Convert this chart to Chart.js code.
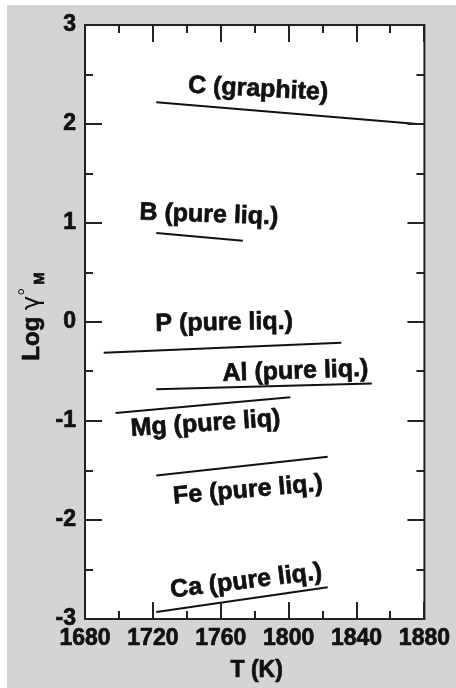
<!DOCTYPE html>
<html>
<head>
<meta charset="utf-8">
<title>Log activity coefficient vs temperature</title>
<script src="https://cdn.jsdelivr.net/npm/chart.js@4.4.1/dist/chart.umd.min.js"></script>
<style>
  html, body { margin: 0; padding: 0; background: #fff; }
  #wrap { width: 456px; height: 688px; position: relative; }
</style>
</head>
<body>
<div id="wrap"><canvas id="chart"></canvas></div>
<script>
// one straight segment per solute: endpoints in T (K) and log gamma
const solutes = ["C (graphite)", "B (pure liq.)", "P (pure liq.)", "Al (pure liq.)", "Mg (pure liq)", "Fe (pure liq.)", "Ca (pure liq.)"];
const tStart = [1722, 1722, 1691, 1722, 1698, 1722, 1722];
const tEnd = [1876, 1773, 1831, 1849, 1801, 1823, 1823];
const logStart = [2.22, 0.90, -0.31, -0.68, -0.92, -1.55, -2.93];
const logEnd = [2.00, 0.82, -0.21, -0.62, -0.76, -1.36, -2.68];

const xTicks = [1680, 1720, 1760, 1800, 1840, 1880];
const yTicks = [-3, -2, -1, 0, 1, 2, 3];

// where each name sits, in axis units, and its tilt in degrees
const labelT = [1782, 1753, 1762, 1804, 1751, 1776, 1775];
const labelLog = [2.35, 1.08, -0.01, -0.5, -1.03, -1.70, -2.62];
const labelTilt = [3, 2, -1, -2, -4, -5, -7];

const FONT = '"Liberation Sans", Arial, Helvetica, sans-serif';
const GREY = "#d3d4d6";
const INK = "#111";

const datasets = solutes.map((name, i) => ({
  label: name,
  data: [{ x: tStart[i], y: logStart[i] }, { x: tEnd[i], y: logEnd[i] }],
  showLine: true,
  borderColor: INK,
  borderWidth: 2,
  pointRadius: 0,
  fill: false,
}));

// filled and lightly stroked so the bold face reads a bit heavier
function heavyText(ctx, text, x, y) {
  ctx.fillText(text, x, y);
  ctx.strokeText(text, x, y);
}

const framePlugin = {
  id: "frame",
  beforeDraw(chart) {
    const { ctx, chartArea: a } = chart;
    ctx.save();
    ctx.fillStyle = "#fff";
    ctx.fillRect(0, 0, chart.width, chart.height);
    ctx.fillStyle = GREY;
    ctx.fillRect(7, 5, chart.width - 7, chart.height - 5);
    ctx.fillStyle = "#fff";
    ctx.fillRect(a.left, a.top, a.right - a.left, a.bottom - a.top);
    ctx.restore();
  },
  afterDatasetsDraw(chart) {
    const { ctx, chartArea: a, scales } = chart;
    const x = scales.x, y = scales.y;
    ctx.save();
    ctx.strokeStyle = "#222";
    ctx.lineWidth = 2;
    ctx.strokeRect(a.left, a.top, a.right - a.left, a.bottom - a.top);

    // inward ticks on all four sides, long at labels, short between
    ctx.beginPath();
    for (let v = 1680; v <= 1880; v += 20) {
      const px = Math.round(x.getPixelForValue(v));
      const len = v % 40 === 0 ? 17 : 8;
      ctx.moveTo(px, a.bottom); ctx.lineTo(px, a.bottom - len);
      ctx.moveTo(px, a.top); ctx.lineTo(px, a.top + len);
    }
    for (let v = -3; v <= 3; v += 0.5) {
      const py = Math.round(y.getPixelForValue(v));
      const len = Number.isInteger(v) ? 17 : 8;
      ctx.moveTo(a.left, py); ctx.lineTo(a.left + len, py);
      ctx.moveTo(a.right, py); ctx.lineTo(a.right - len, py);
    }
    ctx.stroke();

    // series names
    ctx.fillStyle = INK;
    ctx.strokeStyle = INK;
    ctx.lineWidth = 0.7;
    ctx.font = "bold 25px " + FONT;
    ctx.textAlign = "center";
    ctx.textBaseline = "middle";
    solutes.forEach((name, i) => {
      ctx.save();
      ctx.translate(x.getPixelForValue(labelT[i]), y.getPixelForValue(labelLog[i]));
      ctx.rotate(labelTilt[i] * Math.PI / 180);
      heavyText(ctx, name, 0, 0);
      ctx.restore();
    });

    // axis titles
    ctx.font = "bold 23px " + FONT;
    heavyText(ctx, "T (K)", (a.left + a.right) / 2 + 2, 671);

    ctx.save();
    ctx.translate(30, 318);
    ctx.rotate(-Math.PI / 2);
    ctx.textAlign = "left";
    ctx.textBaseline = "alphabetic";
    const parts = [
      { t: "Log ", f: "bold 24px " + FONT, dy: 0 },
      { t: "\u03b3", f: "24px \"DejaVu Sans\", sans-serif", dy: 0 },
      { t: "\u00b0", f: "20px " + FONT, dy: -6 },
      { t: "M", f: "bold 15px " + FONT, dy: 5 },
    ];
    let w = 0;
    parts.forEach(p => { ctx.font = p.f; w += ctx.measureText(p.t).width; });
    let cx = -w / 2;
    parts.forEach(p => {
      ctx.font = p.f;
      if (p.f.startsWith("bold")) heavyText(ctx, p.t, cx, 9 + p.dy);
      else ctx.fillText(p.t, cx, 9 + p.dy);
      cx += ctx.measureText(p.t).width + (p.t === "\u00b0" ? 3 : 0);
    });
    ctx.restore();
    ctx.restore();
  },
};

const tickFont = { family: FONT, size: 23, weight: "bold" };

new Chart(document.getElementById("chart"), {
  type: "scatter",
  data: { datasets },
  plugins: [framePlugin],
  options: {
    responsive: true,
    maintainAspectRatio: false,
    animation: false,
    layout: { padding: { left: 0, top: 25, right: 31, bottom: 0 } },
    plugins: {
      legend: { display: false },
      tooltip: { enabled: false },
    },
    scales: {
      x: {
        type: "linear",
        min: 1680,
        max: 1880,
        afterBuildTicks: (scale) => { scale.ticks = xTicks.map(v => ({ value: v })); },
        afterFit: (scale) => { scale.height = 69; },
        grid: { display: false, drawTicks: false },
        border: { display: false },
        ticks: {
          autoSkip: false,
          maxRotation: 0,
          padding: 6,
          color: INK,
          textStrokeColor: INK,
          textStrokeWidth: 0.7,
          font: tickFont,
          callback: (v) => String(v),
        },
      },
      y: {
        type: "linear",
        min: -3,
        max: 3,
        afterBuildTicks: (scale) => { scale.ticks = yTicks.map(v => ({ value: v })); },
        afterFit: (scale) => { scale.width = 85; },
        grid: { display: false, drawTicks: false },
        border: { display: false },
        ticks: {
          autoSkip: false,
          padding: 9,
          color: INK,
          textStrokeColor: INK,
          textStrokeWidth: 0.7,
          font: tickFont,
          callback: (v) => String(v),
        },
      },
    },
  },
});
</script>
</body>
</html>
